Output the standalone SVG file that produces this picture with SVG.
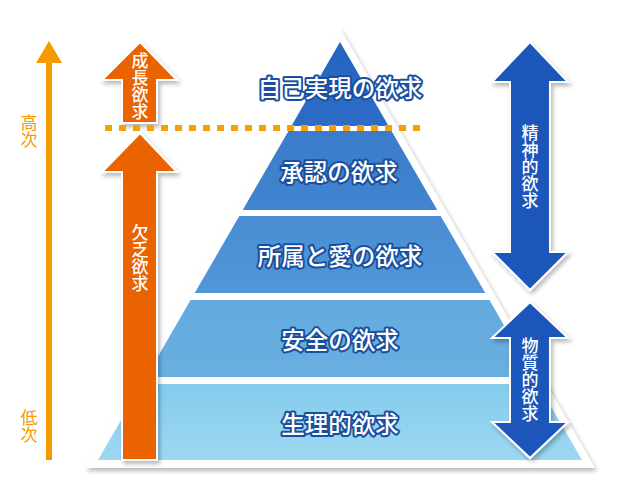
<svg xmlns="http://www.w3.org/2000/svg" width="620" height="500" viewBox="0 0 620 500">
<defs>
<filter id="sh" x="-10%" y="-10%" width="130%" height="130%">
<feDropShadow dx="2" dy="3" stdDeviation="2" flood-color="#000" flood-opacity="0.28"/>
</filter>
<linearGradient id="g1" x1="0" y1="0" x2="0" y2="1"><stop offset="0" stop-color="#2563c2"/><stop offset="1" stop-color="#2d6dc6"/></linearGradient>
<linearGradient id="g2" x1="0" y1="0" x2="0" y2="1"><stop offset="0" stop-color="#3a7cca"/><stop offset="1" stop-color="#4184cf"/></linearGradient>
<linearGradient id="g3" x1="0" y1="0" x2="0" y2="1"><stop offset="0" stop-color="#4a8dd4"/><stop offset="1" stop-color="#5196d8"/></linearGradient>
<linearGradient id="g4" x1="0" y1="0" x2="0" y2="1"><stop offset="0" stop-color="#64aadf"/><stop offset="1" stop-color="#68afe0"/></linearGradient>
<linearGradient id="g5" x1="0" y1="0" x2="0" y2="1"><stop offset="0" stop-color="#84cbec"/><stop offset="1" stop-color="#9dd8f2"/></linearGradient>
<style>
.lbl{font-family:"Noto Sans CJK JP","Noto Sans CJK SC",sans-serif;font-size:23.5px;font-weight:500;fill:#fff;stroke:#1a4e9e;stroke-width:4px;stroke-linejoin:round;paint-order:stroke;text-anchor:middle;dominant-baseline:central}
.vt{font-family:"Noto Sans CJK JP","Noto Sans CJK SC",sans-serif;font-size:17px;font-weight:500;fill:#fff;text-anchor:middle;writing-mode:vertical-rl}
.ax{font-family:"Noto Sans CJK JP","Noto Sans CJK SC",sans-serif;font-size:17px;fill:#f59a00;text-anchor:middle;writing-mode:vertical-rl}
.oa{fill:#e96400;stroke:#fff;stroke-width:2;filter:url(#sh)}
.ba{fill:#1d57bb;stroke:#fff;stroke-width:2;filter:url(#sh)}
</style>
</defs>
<rect width="620" height="500" fill="#fff"/>
<g id="pyramid">
<polygon points="340,28 595,468 85,468" fill="#fff" filter="url(#sh)"/>
<g id="layer1"><polygon points="340,42 388.6,126 291.4,126" fill="url(#g1)"/><text class="lbl" x="340" y="87">自己実現の欲求</text></g>
<g id="layer2"><polygon points="288.5,131 391.5,131 437.3,210 242.7,210" fill="url(#g2)"/><text class="lbl" x="339" y="171">承認の欲求</text></g>
<g id="layer3"><polygon points="239.3,216 440.7,216 485.3,293 194.7,293" fill="url(#g3)"/><text class="lbl" x="340" y="255">所属と愛の欲求</text></g>
<g id="layer4"><polygon points="190.6,300 489.4,300 533.9,377 146.1,377" fill="url(#g4)"/><text class="lbl" x="340" y="339">安全の欲求</text></g>
<g id="layer5"><polygon points="142,384 538,384 582,460 98,460" fill="url(#g5)"/><text class="lbl" x="340" y="423">生理的欲求</text></g>
</g>
<g id="axis">
<rect x="46" y="58" width="6" height="402" fill="#f59a00"/>
<polygon points="49,41 62,63 36,63" fill="#f59a00"/>
<text class="ax" x="29" y="131">高次</text>
<text class="ax" x="29" y="426">低次</text>
</g>
<g id="growth">
<polygon class="oa" points="140,42 177,80 157,80 157,123 122,123 122,80 102,80"/>
<text class="vt" x="140" y="86">成長欲求</text>
</g>
<g id="deficiency">
<polygon class="oa" points="140,133 177,172 157,172 157,460 122,460 122,172 102,172"/>
<text class="vt" x="140" y="258">欠乏欲求</text>
</g>
<g id="connectors">
<line x1="105" y1="128" x2="422" y2="128" stroke="#f5a100" stroke-width="6" stroke-dasharray="7 7"/>
</g>
<g id="mental">
<polygon class="ba" points="530,42 568,82 550,82 550,252 568,252 530,290 492,252 510,252 510,82 492,82"/>
<text class="vt" x="530" y="167">精神的欲求</text>
</g>
<g id="material">
<polygon class="ba" points="530,302 568,338 550,338 550,422 568,422 530,458 492,422 510,422 510,338 492,338"/>
<text class="vt" x="530" y="380">物質的欲求</text>
</g>
</svg>
